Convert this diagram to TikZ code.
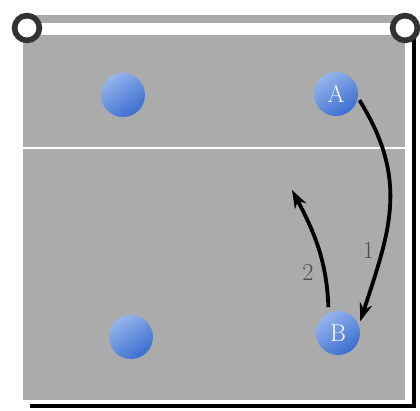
\documentclass[tikz,border=0pt]{standalone}
\usepackage{tikz}
\usetikzlibrary{arrows.meta,positioning}
\definecolor{courtgray}{RGB}{171,171,171}
\definecolor{balllight}{RGB}{150,180,236}
\definecolor{balldark}{RGB}{58,110,208}
\definecolor{postgray}{RGB}{50,50,50}

\begin{document}
\begin{tikzpicture}[
        x=0.025cm, y=0.025cm,
        player/.style={circle, minimum size=1.1cm, inner sep=0pt, shading=axis, top color=balllight, bottom color=balldark, shading angle=35, text=white, font=\LARGE},
        post/.style={draw=postgray, fill=white, line width=4pt},
        move/.style={line width=2.7pt, -{Stealth[length=13pt, width=9pt]}},
        steplabel/.style={font=\LARGE, text=black!70}
    ]
        \useasboundingbox (0,0) rectangle (420,411);

        % Court with its drop shadow
        \fill[black] (30,3) rectangle (416,7);
        \fill[black] (412,3) rectangle (416,376);
        \fill[courtgray] (23,11) rectangle (405,376);
        \draw[white, line width=2pt] (23,263) -- (405,263);

        % Net and posts
        \fill[courtgray] (27,388) rectangle (405,396);
        \node[post, circle, minimum size=0.62cm] (postl) at (27,383) {};
        \node[post, circle, minimum size=0.62cm] (postr) at (405,383) {};

        % Players
        \node[player] (p1) at (123,316) {};
        \node[player] (A) at (336,317) {A};
        \node[player] (p3) at (131,74) {};
        \node[player] (B) at (338,78) {B};
        \coordinate (c2) at (292,221);

        % Moves
        \draw[move, shorten <=2pt, shorten >=3pt] (A.-10) to[out=-58, in=72, looseness=1.1] node[steplabel, pos=0.7, left=1pt] {1} (B.20);
        \draw[move, shorten <=4pt] (B.115) to[out=92, in=-62] node[steplabel, pos=0.3, left=3pt] {2} (c2);
    \end{tikzpicture}
\end{document}
